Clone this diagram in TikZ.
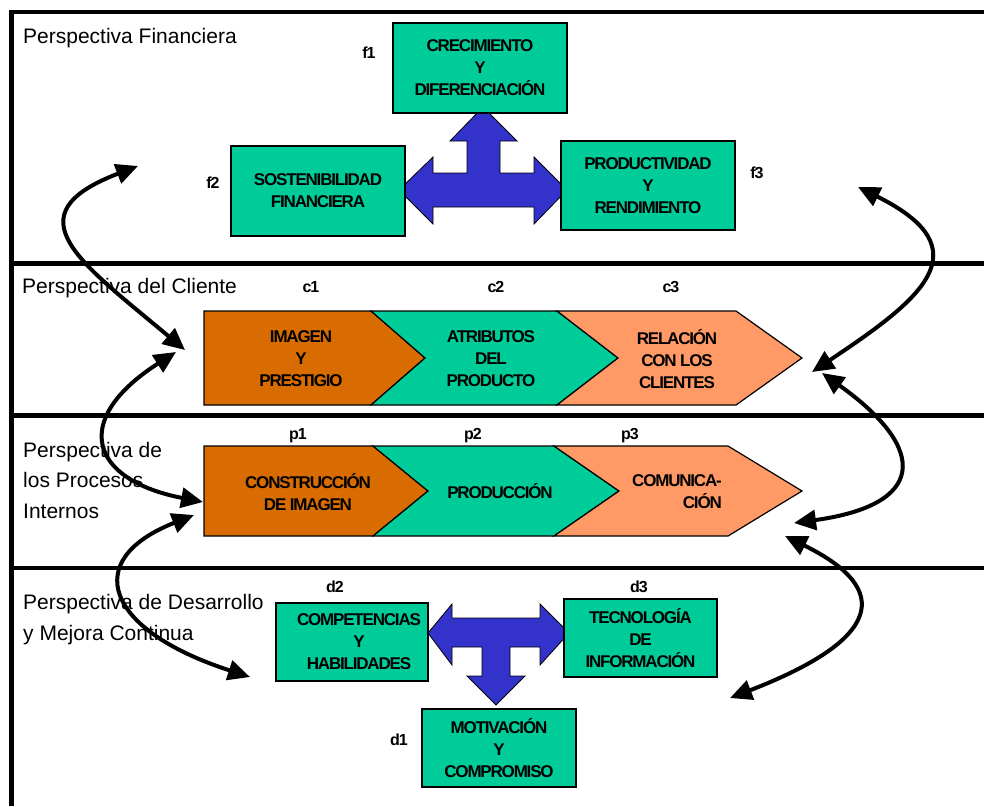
\documentclass[tikz,border=0pt]{standalone}
\usepackage{fontspec}
\setmainfont{Liberation Sans}
\newfontfamily\boxfont[LetterSpace=-7]{Liberation Sans}
\usetikzlibrary{arrows.meta}
\definecolor{boxgreen}{RGB}{0,204,153}
\definecolor{burnt}{RGB}{217,108,0}
\definecolor{salmon}{RGB}{255,153,102}
\definecolor{royal}{RGB}{51,51,204}
\begin{document}
\begin{tikzpicture}[x=1pt,y=-1pt,
  frameline/.style={line width=4.5pt},
  persp/.style={anchor=base west,inner sep=0pt,align=left,font=\fontsize{21}{30.5}\selectfont},
  tag/.style={inner sep=0pt,font=\boxfont\bfseries\fontsize{16}{18}\selectfont},
  boxtext/.style={inner sep=0pt,align=center,font=\boxfont\bfseries\fontsize{17}{22}\selectfont},
  gbox/.style={boxtext,draw=black,line width=1.2pt,fill=boxgreen},
  chev/.style={draw=black,line width=1.2pt},
  bigarrow/.style={draw=black,line width=0.8pt,fill=royal},
  dbl/.style={line width=4pt,{Triangle[length=22pt,width=20pt]}-{Triangle[length=22pt,width=20pt]}}
]
\useasboundingbox (0,0) rectangle (984,806);
% frame
\draw[frameline] (11.5,806) -- (11.5,12) -- (990,12);
\draw[frameline] (11.5,263.5) -- (990,263.5);
\draw[frameline] (11.5,415.5) -- (990,415.5);
\draw[frameline] (11.5,568) -- (990,568);
% perspective labels (anchor on last baseline)
\node[persp] (lf) at (23,43) {Perspectiva Financiera};
\node[persp] (lc) at (22,293) {Perspectiva del Cliente};
\node[persp] (lp) at (23,518) {Perspectiva de\\los Procesos\\Internos};
\node[persp] (ld) at (23,640) {Perspectiva de Desarrollo\\y Mejora Continua};
% financial
\draw[bigarrow] (483,107) -- (517,141) -- (500,141) -- (500,173) -- (534,173) -- (534,157) -- (567,190) -- (534,224) -- (534,207) -- (433,207) -- (433,224) -- (399,190) -- (433,157) -- (433,173) -- (467,173) -- (467,141) -- (450,141) -- cycle;
\node[gbox,minimum width=174pt,minimum height=90pt] (f1) at (480,68) {CRECIMIENTO\\Y\\DIFERENCIACIÓN};
\node[gbox,minimum width=174pt,minimum height=90pt] (f2) at (318,191) {SOSTENIBILIDAD\\FINANCIERA};
\node[gbox,minimum width=174pt,minimum height=89pt] (f3) at (648,185.5) {PRODUCTIVIDAD\\Y\\RENDIMIENTO};
\node[tag] (tf1) at (369,53) {f1};
\node[tag] (tf2) at (213,183) {f2};
\node[tag] (tf3) at (757,173) {f3};
% client
\draw[chev,fill=burnt] (204,311) -- (371,311) -- (425,358) -- (371,405) -- (204,405) -- cycle;
\draw[chev,fill=boxgreen] (371,311) -- (557,311) -- (618,358) -- (557,405) -- (371,405) -- (425,358) -- cycle;
\draw[chev,fill=salmon] (557,311) -- (736,311) -- (802,358) -- (736,405) -- (557,405) -- (618,358) -- cycle;
\node[boxtext] (c1) at (301,359) {IMAGEN\\Y\\PRESTIGIO};
\node[boxtext] (c2) at (491,359) {ATRIBUTOS\\DEL\\PRODUCTO};
\node[boxtext] (c3) at (677,359) {RELACIÓN\\CON LOS\\CLIENTES};
\node[tag] (tc1) at (311,287) {c1};
\node[tag] (tc2) at (496,287) {c2};
\node[tag] (tc3) at (671,287) {c3};
% processes
\draw[chev,fill=burnt] (204,446) -- (373,446) -- (428,491) -- (373,536) -- (204,536) -- cycle;
\draw[chev,fill=boxgreen] (373,446) -- (554,446) -- (619,491) -- (554,536) -- (373,536) -- (428,491) -- cycle;
\draw[chev,fill=salmon] (554,446) -- (728,446) -- (802,491) -- (728,536) -- (554,536) -- (619,491) -- cycle;
\node[boxtext] (p1) at (308,492) {CONSTRUCCIÓN\\DE IMAGEN};
\node[boxtext] (p2) at (500,491) {PRODUCCIÓN};
\node[boxtext,align=right,anchor=east] (p3) at (722,492) {COMUNICA-\\CIÓN};
\node[tag] (tp1) at (298,436) {p1};
\node[tag] (tp2) at (473,436) {p2};
\node[tag] (tp3) at (630,436) {p3};
% development
\draw[bigarrow] (428,633) -- (452,604) -- (452,618) -- (540,618) -- (540,604) -- (569,633) -- (540,665) -- (540,647) -- (510,647) -- (510,676) -- (525,676) -- (496,705) -- (467,676) -- (482,676) -- (482,647) -- (452,647) -- (452,665) -- cycle;
\node[gbox,minimum width=152pt,minimum height=78pt] (d2) at (352,642) {\hspace*{14pt}COMPETENCIAS\\\hspace*{14pt}Y\\\hspace*{14pt}HABILIDADES};
\node[gbox,minimum width=154pt,minimum height=78pt] (d1) at (499,748) {MOTIVACIÓN\\Y\\COMPROMISO};
\node[gbox,minimum width=153pt,minimum height=78pt] (d3) at (640.5,638) {TECNOLOGÍA\\DE\\INFORMACIÓN};
\node[tag] (td2) at (335,587) {d2};
\node[tag] (td3) at (639,587) {d3};
\node[tag] (td1) at (399,740) {d1};
% curved double arrows
\coordinate (l1a) at (138,166); \coordinate (l1b) at (185,350);
\coordinate (l2a) at (176,352); \coordinate (l2b) at (203,502);
\coordinate (l3a) at (194,515); \coordinate (l3b) at (250,677);
\coordinate (r1a) at (858,187); \coordinate (r1b) at (812,372);
\coordinate (r2a) at (822,373); \coordinate (r2b) at (794,523);
\coordinate (r3a) at (785,536); \coordinate (r3b) at (730,698);
\draw[dbl] (l1a) .. controls (10,215) and (80,262) .. (l1b);
\draw[dbl] (l2a) .. controls (70,420) and (90,480) .. (l2b);
\draw[dbl] (l3a) .. controls (80,560) and (105,630) .. (l3b);
\draw[dbl] (r1a) .. controls (985,250) and (920,300) .. (r1b);
\draw[dbl] (r2a) .. controls (930,450) and (925,505) .. (r2b);
\draw[dbl] (r3a) .. controls (895,590) and (880,640) .. (r3b);
\end{tikzpicture}
\end{document}
